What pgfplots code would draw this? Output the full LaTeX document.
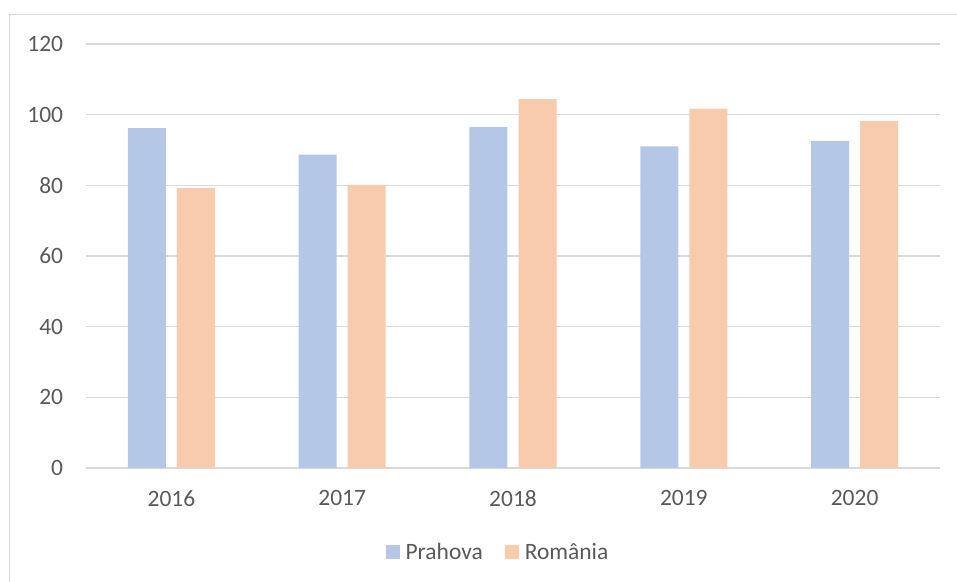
\documentclass[border=0pt]{standalone}
\usepackage{fontspec}
\setmainfont{Carlito}
\usepackage{pgfplots}
\pgfplotsset{compat=1.18}
\definecolor{txt}{HTML}{595959}
\definecolor{grd}{HTML}{D9D9D9}
\definecolor{pra}{HTML}{B4C7E7}
\definecolor{rom}{HTML}{F8CBAD}
\begin{document}
\begin{tikzpicture}[x=0.75pt,y=0.75pt]
\useasboundingbox (0,0) rectangle (957,582);
\draw[grd, line width=0.9pt] (9.3,0) -- (9.3,567.3) -- (957,567.3);
\begin{axis}[
  at={(64.5pt,85.5pt)}, anchor=south west,
  scale only axis, width=640.5pt, height=318pt,
  xmin=-0.5, xmax=4.5, ymin=0, ymax=120,
  ytick={0,20,40,60,80,100,120},
  xtick=data, xticklabels={2016,2017,2018,2019,2020},
  ybar, bar width=28.5pt,
  axis x line*=bottom, axis y line*=left,
  x axis line style={grd, line width=0.9pt, -},
  y axis line style={draw=none},
  ymajorgrids, grid style={grd, line width=0.9pt},
  major tick length=0pt,
  tick label style={font=\fontsize{17.6}{20}\selectfont, text=txt},
  /pgf/number format/assume math mode=true,
  xticklabel style={inner sep=0pt, anchor=north},
  xticklabel shift=16.5pt,
  yticklabel style={inner sep=0pt, anchor=east},
  yticklabel shift=17pt,
  every axis plot/.append style={draw=none},
  legend columns=2,
  legend cell align=left,
  legend style={at={(0.3466,-0.198)}, anchor=west, draw=none, fill=none,
    font=\fontsize{17.6}{20}\selectfont, text=txt,
    nodes={inner ysep=0pt, inner xsep=4.5pt},
    /tikz/every even column/.append style={column sep=12.5pt}},
  legend image code/.code={\fill[#1] (0pt,-5pt) rectangle (10pt,5pt);},
]
\addplot[fill=pra, bar shift=-18.4pt] coordinates {(0,96.2) (1,88.7) (2,96.5) (3,91.0) (4,92.6)};
\addplot[fill=rom, bar shift=18.4pt] coordinates {(0,79.2) (1,80.1) (2,104.4) (3,101.7) (4,98.2)};
\legend{Prahova, România}
\end{axis}
\end{tikzpicture}
\end{document}
